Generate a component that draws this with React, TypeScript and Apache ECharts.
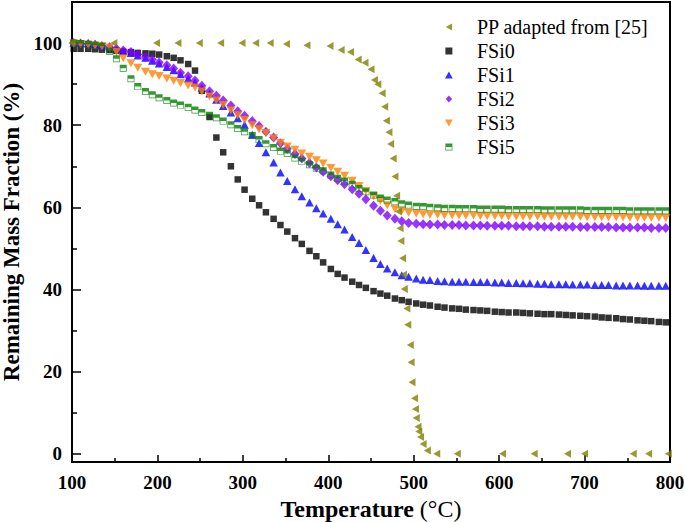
import React, { useEffect, useRef } from "react";
import * as echarts from "echarts";

const tempFSi = [
  102, 110, 119, 127, 135, 144, 152, 160, 169, 177,
  186, 194, 202, 211, 219, 227, 236, 244, 252, 261,
  269, 277, 286, 294, 302, 311, 319, 327, 336, 344,
  352, 361, 369, 378, 386, 394, 403, 411, 419, 428,
  436, 444, 453, 461, 469, 478, 486, 494, 503, 511,
  519, 528, 536, 545, 553, 561, 570, 578, 586, 595,
  603, 611, 620, 628, 636, 645, 653, 661, 670, 678,
  686, 695, 703, 712, 720, 728, 737, 745, 753, 762,
  770, 778, 787, 795,
];

const fsi0 = [
  98.6, 98.6, 98.6, 98.5, 98.4, 98.3, 98.1, 97.9, 97.8, 97.6,
  97.5, 97.4, 97.2, 96.8, 96.4, 95.8, 94.9, 93.3, 88.4, 82.0,
  77.0, 73.4, 70.0, 66.8, 64.3, 62.1, 60.5, 58.8, 57.2, 55.7,
  54.1, 52.5, 51.1, 49.4, 48.1, 46.6, 45.0, 43.8, 42.9, 41.9,
  41.1, 40.4, 39.6, 39.0, 38.5, 37.8, 37.4, 37.0, 36.6, 36.3,
  36.1, 35.8, 35.6, 35.4, 35.3, 35.1, 35.0, 34.9, 34.8, 34.6,
  34.5, 34.4, 34.4, 34.3, 34.2, 34.1, 34.0, 34.0, 33.9, 33.8,
  33.7, 33.6, 33.5, 33.4, 33.2, 33.1, 33.0, 32.8, 32.7, 32.5,
  32.4, 32.3, 32.1, 32.0,
];

const fsi1 = [
  100.0, 100.0, 99.9, 99.7, 99.4, 99.0, 98.6, 98.1, 97.6, 97.0,
  96.4, 95.7, 95.0, 94.2, 93.4, 92.4, 91.4, 90.4, 89.1, 87.7,
  86.2, 84.7, 83.1, 81.7, 80.1, 77.7, 75.7, 73.4, 70.9, 68.5,
  66.4, 64.4, 62.7, 61.2, 59.8, 58.5, 57.2, 55.9, 54.6, 52.8,
  51.3, 49.6, 47.7, 46.2, 45.1, 44.2, 43.5, 43.1, 42.7, 42.4,
  42.3, 42.1, 42.0, 41.9, 41.9, 41.9, 41.8, 41.8, 41.8, 41.7,
  41.7, 41.6, 41.6, 41.5, 41.5, 41.4, 41.4, 41.3, 41.3, 41.3,
  41.2, 41.2, 41.2, 41.1, 41.1, 41.1, 41.0, 41.0, 41.0, 41.0,
  40.9, 40.9, 40.9, 40.9,
];

const fsi2 = [
  100.0, 99.9, 99.8, 99.6, 99.3, 99.0, 98.6, 98.2, 97.8, 97.2,
  96.6, 96.0, 95.3, 94.6, 93.8, 92.8, 91.9, 90.9, 89.6, 88.3,
  87.2, 86.0, 84.8, 83.4, 82.3, 81.0, 79.8, 78.4, 77.0, 75.6,
  74.3, 73.0, 71.9, 70.8, 69.7, 68.7, 67.6, 66.6, 65.6, 64.4,
  63.3, 62.0, 60.4, 59.2, 58.0, 57.2, 56.6, 56.2, 56.0, 55.9,
  55.8, 55.8, 55.7, 55.7, 55.7, 55.6, 55.6, 55.6, 55.5, 55.5,
  55.5, 55.5, 55.4, 55.4, 55.4, 55.4, 55.3, 55.3, 55.3, 55.3,
  55.3, 55.2, 55.2, 55.2, 55.2, 55.2, 55.1, 55.1, 55.1, 55.1,
  55.1, 55.0, 55.0, 55.0,
];

const fsi3 = [
  99.9, 99.8, 99.6, 99.4, 99.2, 98.9, 97.8, 96.3, 95.1, 94.0,
  93.0, 92.4, 92.0, 91.4, 90.8, 90.3, 89.7, 89.2, 88.2, 87.0,
  86.0, 84.9, 83.6, 82.4, 81.3, 80.0, 79.0, 78.1, 76.8, 75.7,
  74.8, 74.0, 73.1, 72.3, 71.5, 70.7, 69.6, 68.7, 67.7, 66.5,
  65.2, 64.0, 62.7, 61.6, 60.5, 59.6, 59.1, 58.7, 58.5, 58.3,
  58.2, 58.2, 58.1, 58.1, 58.0, 58.0, 58.0, 57.9, 57.9, 57.9,
  57.9, 57.8, 57.8, 57.8, 57.8, 57.8, 57.7, 57.7, 57.7, 57.7,
  57.7, 57.7, 57.6, 57.6, 57.6, 57.6, 57.6, 57.6, 57.5, 57.5,
  57.5, 57.5, 57.5, 57.4,
];

const fsi5 = [
  100.0, 99.9, 99.7, 99.5, 99.2, 98.0, 96.2, 93.9, 91.3, 89.4,
  88.2, 87.4, 86.7, 86.0, 85.4, 84.9, 84.4, 83.7, 83.1, 82.4,
  81.8, 81.0, 80.1, 79.2, 78.4, 77.5, 76.5, 75.5, 74.6, 73.7,
  73.1, 72.0, 71.2, 70.4, 69.5, 68.9, 67.9, 67.1, 66.4, 65.6,
  64.6, 63.8, 63.0, 62.3, 61.8, 61.4, 60.9, 60.6, 60.3, 60.2,
  60.0, 59.9, 59.8, 59.8, 59.7, 59.7, 59.7, 59.6, 59.6, 59.6,
  59.6, 59.5, 59.5, 59.5, 59.5, 59.5, 59.4, 59.4, 59.4, 59.4,
  59.4, 59.4, 59.3, 59.3, 59.3, 59.3, 59.3, 59.3, 59.2, 59.2,
  59.2, 59.2, 59.2, 59.2,
];

const ppTemp = [
  100, 149, 199, 224, 249, 274, 299, 315, 332, 351,
  375, 402, 415, 426, 435, 443, 450, 454, 458, 463,
  466, 468, 471, 473, 476, 478, 480, 482, 484, 485,
  487, 488, 489, 492, 493, 496, 497, 498, 501, 502,
  503, 505, 506, 508, 511, 516, 527, 551, 604, 641,
  680, 700, 757, 775, 798,
];
const ppMass = [
  100, 100, 100, 100, 100, 100, 100, 100, 100, 99.8,
  99.5, 99.3, 98.3, 97.8, 96.0, 95.2, 93.6, 91.0, 90.0, 87.8,
  84.5, 81.1, 78.3, 75.4, 71.9, 67.5, 62.8, 59.0, 54.9, 51.8,
  47.6, 43.6, 40.1, 35.4, 31.4, 26.5, 22.3, 17.4, 13.5, 10.9,
  8.7, 6.6, 5.4, 4.1, 2.4, 0.8, 0, 0, 0, 0,
  0, 0, 0, 0, 0,
];

const xTicks = [100, 200, 300, 400, 500, 600, 700, 800];
const yTicks = [0, 20, 40, 60, 80, 100];
const yMinorTicks = [10, 30, 50, 70, 90];

const names = ["PP adapted from [25]", "FSi0", "FSi1", "FSi2", "FSi3", "FSi5"];

const FONT = "'Liberation Serif', 'Times New Roman', serif";

function pairs(xs: number[], ys: number[]) {
  return xs.map((x, i) => [x, ys[i]]);
}

export default function App() {
  const ref = useRef<HTMLDivElement>(null);
  useEffect(() => {
    if (!ref.current) return;
    const chart = echarts.init(ref.current, null, { renderer: "svg" });
    const symLeft = "path://M0,5L9,0L9,10Z";
    const symDown = "path://M0,0L10,0L5,9Z";
    const symUp = "path://M5,0L10,9L0,9Z";
    const symRect = "path://M0,0H10V10H0Z";
    const symDiamond = "path://M5,0L10,5.5L5,11L0,5.5Z";
    const symHalf = "path://M0,0H10V10H0Z M1,5V9H9V5Z";
    chart.setOption({
      animation: false,
      backgroundColor: "#fff",
      grid: {
        left: 72,
        right: 15,
        top: 2,
        bottom: 60,
        show: true,
        borderColor: "#000",
        borderWidth: 2,
        containLabel: false,
        outerBoundsMode: "none",
      },
      legend: {
        orient: "vertical",
        left: 440,
        top: 12,
        itemWidth: 46,
        itemHeight: 7,
        itemGap: 4,
        symbolKeepAspect: true,
        textStyle: { fontFamily: FONT, fontSize: 20, color: "#000" },
        data: names,
      },
      xAxis: {
        type: "value",
        min: xTicks[0],
        max: xTicks[xTicks.length - 1],
        interval: 100,
        name: "{b|Temperature} {n|(°C)}",
        nameLocation: "middle",
        nameGap: 32,
        nameTextStyle: {
          fontFamily: FONT,
          fontSize: 24,
          color: "#000",
          rich: {
            b: { fontFamily: FONT, fontSize: 24, fontWeight: "bold", color: "#000" },
            n: { fontFamily: FONT, fontSize: 24, fontWeight: "normal", color: "#000" },
          },
        },
        axisLine: { show: true, onZero: false, lineStyle: { color: "#000", width: 2 } },
        axisTick: { show: true, inside: true, length: 7, lineStyle: { color: "#000", width: 1.5 } },
        minorTick: { show: true, splitNumber: 2, length: 4, lineStyle: { color: "#000", width: 1.5 } },
        splitLine: { show: false },
        axisLabel: {
          fontFamily: FONT,
          fontSize: 19,
          fontWeight: "bold",
          color: "#000",
          margin: 11,
        },
      },
      yAxis: [
        {
          type: "value",
          min: -2,
          max: 110,
          name: "Remaining Mass Fraction (%)",
          nameLocation: "middle",
          nameGap: 43,
          nameTextStyle: { fontFamily: FONT, fontSize: 23, fontWeight: "bold", color: "#000" },
          axisLine: { show: true, onZero: false, lineStyle: { color: "#000", width: 2 } },
          axisTick: {
            show: true,
            inside: true,
            length: 9,
            customValues: yTicks,
            lineStyle: { color: "#000", width: 1.5 },
          },
          splitLine: { show: false },
          axisLabel: {
            customValues: yTicks,
            fontFamily: FONT,
            fontSize: 19,
            fontWeight: "bold",
            color: "#000",
            margin: 10,
          },
        },
        {
          type: "value",
          min: -2,
          max: 110,
          position: "left",
          axisLine: { show: false },
          axisTick: {
            show: true,
            inside: true,
            length: 5,
            customValues: yMinorTicks,
            lineStyle: { color: "#000", width: 1.5 },
          },
          splitLine: { show: false },
          axisLabel: { show: false },
        },
      ],
      series: [
        {
          name: "FSi0",
          type: "scatter",
          data: pairs(tempFSi, fsi0),
          symbol: symRect,
          symbolSize: [6.5, 6.5],
          itemStyle: { color: "#000" },
        },
        {
          name: "FSi1",
          type: "scatter",
          data: pairs(tempFSi, fsi1),
          symbol: symUp,
          symbolSize: [8.5, 8],
          itemStyle: { color: "#0000ff" },
        },
        {
          name: "FSi2",
          type: "scatter",
          data: pairs(tempFSi, fsi2),
          symbol: symDiamond,
          symbolSize: [9, 10],
          itemStyle: { color: "#8000ff" },
        },
        {
          name: "FSi3",
          type: "scatter",
          data: pairs(tempFSi, fsi3),
          symbol: symDown,
          symbolSize: [9, 8],
          itemStyle: { color: "#ff8000" },
        },
        {
          name: "FSi5",
          type: "scatter",
          data: pairs(tempFSi, fsi5),
          symbol: symHalf,
          symbolSize: [7, 7],
          itemStyle: { color: "#008000" },
        },
        {
          name: "PP adapted from [25]",
          type: "scatter",
          data: pairs(ppTemp, ppMass),
          symbol: symLeft,
          symbolSize: [7, 8],
          itemStyle: { color: "#808000" },
        },
      ],
    });
    return () => chart.dispose();
  }, []);
  return (
    <div
      ref={ref}
      style={{ position: "fixed", left: 0, top: 0, width: 685, height: 522, background: "#fff" }}
    />
  );
}
